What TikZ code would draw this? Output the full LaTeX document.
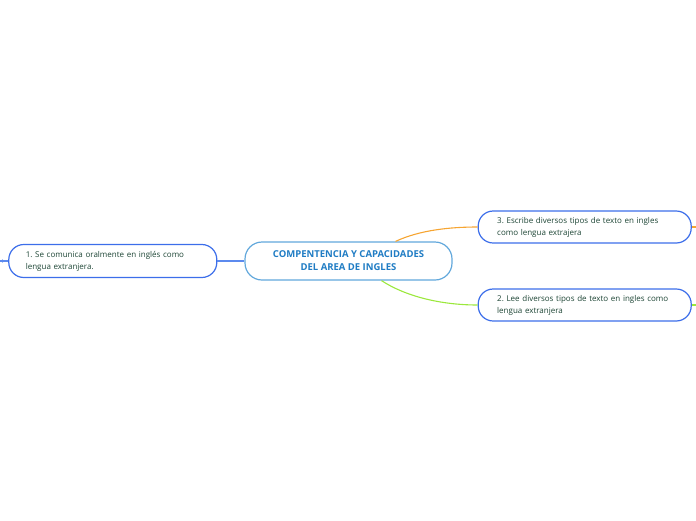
\documentclass[tikz,border=0pt]{standalone}
\usepackage{fontspec}
\setmainfont{Open Sans}
\usepackage{xcolor}
\usetikzlibrary{positioning}
\frenchspacing

\definecolor{topicblue}{HTML}{3C6EEA}
\definecolor{topictext}{HTML}{1E4636}
\definecolor{mainline}{HTML}{62A8DC}
\definecolor{maintext}{HTML}{1F7CC4}
\definecolor{linkblue}{HTML}{5C8AEE}
\definecolor{linkorange}{HTML}{F6A532}
\definecolor{linkgreen}{HTML}{9BE83C}

\begin{document}
\begin{tikzpicture}[
    x=1pt, y=-1pt,
    central/.style={draw=mainline, line width=1.2pt, fill=white, rounded corners=17pt,
        minimum width=207pt, minimum height=38pt, align=center, text=maintext,
        font=\fontsize{9.5}{13}\selectfont\bfseries, inner sep=0pt},
    topic/.style={draw=topicblue, line width=1.2pt, fill=white, rounded corners=15pt,
        minimum height=32pt, align=left, text=topictext,
        font=\fontsize{8}{12}\selectfont, inner ysep=0pt},
    link/.style={line width=1.1pt},
]
\useasboundingbox (0,0) rectangle (696,520);

% === Central topic ===
\node[central] (main) at (348.5,261) {COMPENTENCIA Y CAPACIDADES\\DEL AREA DE INGLES};

% === Left branch ===
\node[topic, left=27pt of main, text width=174pt, inner xsep=17pt, minimum height=33pt] (oral) {1. Se comunica oralmente en inglés como\\lengua extranjera.};

% === Right branches ===
\node[topic, right=25pt of main, yshift=34pt, text width=175pt, inner xsep=19pt] (escribe) {3. Escribe diversos tipos de texto en ingles\\como lengua extrajera};
\node[topic, right=25pt of main, yshift=-44pt, text width=175pt, inner xsep=19pt] (lee) {2. Lee diversos tipos de texto en ingles como\\lengua extranjera};

% Connectors
\draw[link, linkblue] (main.west) -- (oral.east);
\draw[link, linkorange] ([xshift=47pt]main.north) .. controls (420,230) and (450,227) .. (escribe.west);
\draw[link, linkgreen] ([xshift=33pt]main.south) .. controls (405,296) and (440,305) .. (lee.west);

% stubs leaving the page
\coordinate (oralend) at (0,261);
\coordinate (escend) at (696,227);
\coordinate (leeend) at (696,305);
\draw[link, linkblue] (oral.west) -- (oralend);
\fill[linkblue] (2.5,261) circle (1.6pt);
\draw[link, linkorange] (escribe.east) -- (escend);
\draw[link, linkgreen] (lee.east) -- (leeend);

\end{tikzpicture}
\end{document}
